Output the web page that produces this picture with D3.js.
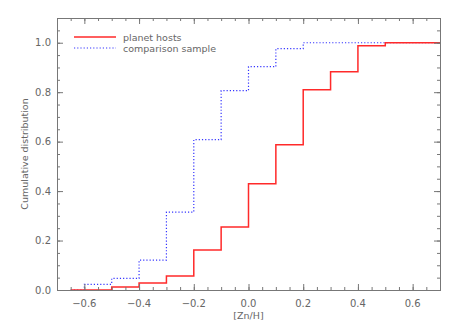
<!DOCTYPE html>
<html>
<head>
<meta charset="utf-8">
<script src="https://cdn.jsdelivr.net/npm/d3@7"></script>
<style>
  body { margin: 0; background: #fff; }
  text { font-family: "DejaVu Sans", sans-serif; fill: #666; }
</style>
</head>
<body>
<div id="chart"></div>
<script>
// step edges ([Zn/H]) and cumulative fractions for each step
const edges = [-0.65, -0.6, -0.5, -0.4, -0.3, -0.2, -0.1, 0.0, 0.1, 0.2, 0.3, 0.4, 0.5, 0.7];
const hosts = [0.0, 0.0, 0.012, 0.028, 0.057, 0.162, 0.255, 0.43, 0.587, 0.81, 0.883, 0.988, 1.0];
const comparison = [0.0, 0.023, 0.047, 0.121, 0.315, 0.608, 0.806, 0.903, 0.976, 1.0, 1.0, 1.0, 1.0];
const xTicks = [-0.6, -0.4, -0.2, 0.0, 0.2, 0.4, 0.6];
const yTicks = [0.0, 0.2, 0.4, 0.6, 0.8, 1.0];
const legendItems = ["planet hosts", "comparison sample"];

const W = 458, H = 327;
const margin = {top: 18, right: 18, bottom: 37, left: 57};
const w = W - margin.left - margin.right;
const h = H - margin.top - margin.bottom;

const svg = d3.select("#chart").append("svg")
    .attr("width", W)
    .attr("height", H);

const g = svg.append("g")
    .attr("transform", `translate(${margin.left},${margin.top})`);

const x = d3.scaleLinear().domain([-0.7, 0.7]).range([0, w]);
const y = d3.scaleLinear().domain([0, 1.1]).range([h, 0]);

// step line: value i spans edges[i]..edges[i+1]
function stepPoints(vals) {
    let pts = [];
    vals.forEach((v, i) => {
        pts.push([edges[i], v]);
        pts.push([edges[i + 1], v]);
    });
    return pts;
}
const line = d3.line().x(d => x(d[0])).y(d => y(d[1]));

g.append("path")
    .attr("d", line(stepPoints(comparison)))
    .attr("fill", "none")
    .attr("stroke", "#3535ff")
    .attr("stroke-width", 1.2)
    .attr("stroke-dasharray", "1.2,2");

g.append("path")
    .attr("d", line(stepPoints(hosts)))
    .attr("fill", "none")
    .attr("stroke", "#ff2a2a")
    .attr("stroke-width", 1.5);

// axes: box with major and minor ticks on all sides
const axisColor = "#777";
const xMinor = d3.range(-0.7, 0.7001, 0.05).map(v => +v.toFixed(2));
const yMinor = d3.range(0, 1.1001, 0.05).map(v => +v.toFixed(2));

function styleAxis(sel) {
    sel.select(".domain").attr("stroke", axisColor);
    sel.selectAll(".tick line").attr("stroke", axisColor);
    sel.selectAll(".tick text").attr("font-size", 10).style("fill", "#666");
}

// minor ticks
g.append("g").attr("transform", `translate(0,${h})`)
    .call(d3.axisTop(x).tickValues(xMinor).tickSize(3).tickFormat(""))
    .call(styleAxis);
g.append("g")
    .call(d3.axisBottom(x).tickValues(xMinor).tickSize(3).tickFormat(""))
    .call(styleAxis);
g.append("g")
    .call(d3.axisRight(y).tickValues(yMinor).tickSize(3).tickFormat(""))
    .call(styleAxis);
g.append("g").attr("transform", `translate(${w},0)`)
    .call(d3.axisLeft(y).tickValues(yMinor).tickSize(3).tickFormat(""))
    .call(styleAxis);

// major ticks
g.append("g").attr("transform", `translate(0,${h})`)
    .call(d3.axisTop(x).tickValues(xTicks).tickSize(6).tickFormat(""))
    .call(styleAxis);
g.append("g")
    .call(d3.axisBottom(x).tickValues(xTicks).tickSize(6).tickFormat(""))
    .call(styleAxis);
g.append("g")
    .call(d3.axisRight(y).tickValues(yTicks).tickSize(6).tickFormat(""))
    .call(styleAxis);
g.append("g").attr("transform", `translate(${w},0)`)
    .call(d3.axisLeft(y).tickValues(yTicks).tickSize(6).tickFormat(""))
    .call(styleAxis);

// tick labels
g.selectAll(".xlab")
    .data(xTicks)
    .enter()
    .append("text")
    .attr("x", d => x(d))
    .attr("y", h + 17)
    .attr("text-anchor", "middle")
    .attr("font-size", 10)
    .text(d => d3.format(".1f")(d).replace("-", "\u2212"));

g.selectAll(".ylab")
    .data(yTicks)
    .enter()
    .append("text")
    .attr("x", -6)
    .attr("y", d => y(d) + 3.5)
    .attr("text-anchor", "end")
    .attr("font-size", 10)
    .text(d => d3.format(".1f")(d));

// axis titles
g.append("text")
    .attr("x", w / 2)
    .attr("y", h + 29)
    .attr("text-anchor", "middle")
    .attr("font-size", 9.5)
    .text("[Zn/H]");

g.append("text")
    .attr("transform", `translate(${-29},${h / 2}) rotate(-90)`)
    .attr("text-anchor", "middle")
    .attr("font-size", 9.5)
    .text("Cumulative distribution");

// legend
const legend = g.append("g").attr("transform", "translate(17,19)");
legend.append("line")
    .attr("x1", 0).attr("x2", 42).attr("y1", 0).attr("y2", 0)
    .attr("stroke", "#ff2a2a").attr("stroke-width", 1.5);
legend.append("line")
    .attr("x1", 0).attr("x2", 42).attr("y1", 11).attr("y2", 11)
    .attr("stroke", "#3535ff").attr("stroke-width", 1.2)
    .attr("stroke-dasharray", "1.2,2");
legend.selectAll(".leg")
    .data(legendItems)
    .enter()
    .append("text")
    .attr("x", 49)
    .attr("y", (d, i) => i * 11 + 3.5)
    .attr("font-size", 9.5)
    .text(d => d);
</script>
</body>
</html>
